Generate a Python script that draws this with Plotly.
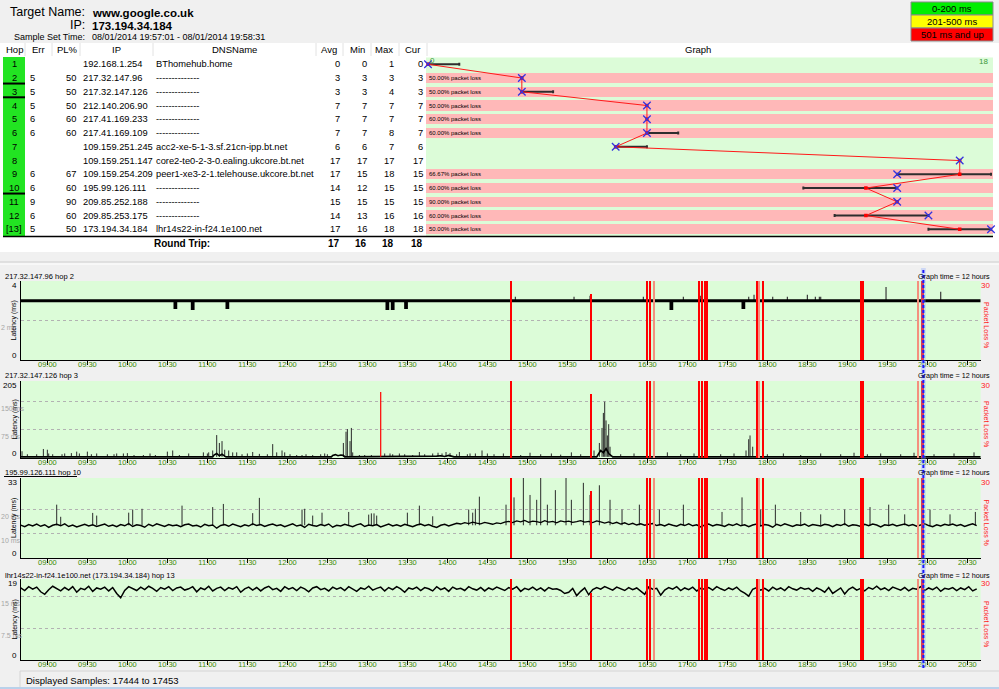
import plotly.graph_objects as go

W, H = 999, 689
FONT = "Liberation Sans, Arial, sans-serif"


def hm(s):
    h, m = s.split(":")
    return int(h) + int(m) / 60.0


# ---------------- data: trace route table ----------------
hop_labels = ["1", "2", "3", "4", "5", "6", "7", "8", "9", "10", "11", "12", "[13]"]
hop_index = list(range(1, 14))
err_col = ["", "5", "5", "5", "6", "6", "", "", "6", "6", "9", "6", "5"]
pl_col = ["", "50", "50", "50", "60", "60", "", "", "67", "60", "90", "60", "50"]
ip_col = ["192.168.1.254", "217.32.147.96", "217.32.147.126", "212.140.206.90",
          "217.41.169.233", "217.41.169.109", "109.159.251.245", "109.159.251.147",
          "109.159.254.209", "195.99.126.111", "209.85.252.188", "209.85.253.175",
          "173.194.34.184"]
dns_col = ["BThomehub.home", "--------------", "--------------", "--------------",
           "--------------", "--------------", "acc2-xe-5-1-3.sf.21cn-ipp.bt.net",
           "core2-te0-2-3-0.ealing.ukcore.bt.net", "peer1-xe3-2-1.telehouse.ukcore.bt.net",
           "--------------", "--------------", "--------------", "lhr14s22-in-f24.1e100.net"]
avg_ms = [0, 3, 3, 7, 7, 7, 6, 17, 17, 14, 15, 14, 17]
min_ms = [0, 3, 3, 7, 7, 7, 6, 17, 15, 12, 15, 13, 16]
max_ms = [1, 3, 4, 7, 7, 8, 7, 17, 18, 15, 15, 16, 18]
cur_ms = [0, 3, 3, 7, 7, 7, 6, 17, 15, 15, 15, 16, 18]
hop_loss_pct = [0, 50, 50, 50, 60, 60, 0, 0, 66.67, 60, 90, 60, 50]
round_trip = [17, 16, 18, 18]
graphed_hops = [2, 3, 10]
graph_max_ms = 18

# ---------------- data: time graphs ----------------
time_ticks = ["09:00", "09:30", "10:00", "10:30", "11:00", "11:30", "12:00", "12:30",
              "13:00", "13:30", "14:00", "14:30", "15:00", "15:30", "16:00", "16:30",
              "17:00", "17:30", "18:00", "18:30", "19:00", "19:30", "20:00", "20:30"]
window_start, window_end = "08:40", "20:40"
cursor_time = "19:57"
sample_step_min = 3

loss_times = ["14:48", "15:48", "16:30", "16:32", "16:35", "17:09", "17:11", "17:13", "17:15",
              "17:52", "17:54", "17:57", "19:10", "19:12", "19:53", "19:56", "19:57"]
loss_values = [100, 25, 100, 100, 100, 100, 100, 100, 100, 100, 100, 100, 100, 100, 100, 100, 100]
loss_partial = [0, 0, 0, 0, 1, 0, 0, 0, 0, 0, 1, 0, 0, 0, 1, 0, 0]

# hop 2
p1_base = 3.0
p1_dip_times = ["10:36", "10:49", "11:15", "13:15", "13:19", "13:29", "16:48", "17:42"]
p1_dip_values = [2.65, 2.6, 2.65, 2.6, 2.6, 2.65, 2.6, 2.65]
p1_spike_times = ["14:51", "15:35", "15:47", "16:27", "16:57", "17:10", "17:46", "17:50", "18:04",
                  "18:15", "18:30", "18:36", "18:39", "18:40", "19:29", "20:10"]
p1_spike_values = [3.2, 3.2, 3.25, 3.2, 3.2, 3.25, 3.2, 3.3, 3.2, 3.2, 3.3, 3.2, 3.2, 3.2, 3.7, 3.45]

# hop 3
p2_base = 3.0
p2_line_times = ["08:40", "11:04", "11:05", "11:07", "11:09", "11:11", "11:13", "11:14",
                 "12:33", "12:34", "12:36", "12:38", "12:40", "12:42", "12:43",
                 "13:51", "13:52", "13:55", "13:58", "14:01", "14:04", "14:05",
                 "15:52", "15:53", "15:55", "15:57", "15:59", "16:01", "16:03", "16:04", "20:40"]
p2_line_values = [3, 3, 8, 12, 6, 10, 5, 3,
                  3, 7, 9, 6, 8, 7, 3,
                  3, 5, 6, 4, 7, 5, 3,
                  3, 8, 20, 14, 25, 12, 6, 3, 3]
p2_spike_times = ["08:41", "08:45", "08:52", "08:57", "09:00", "09:01", "09:04", "09:11", "09:13",
                  "09:18", "09:22", "09:24", "09:30", "09:33", "09:37", "09:45", "09:50", "09:52",
                  "09:57", "10:00", "10:05", "10:12", "10:17", "10:21", "10:30", "10:34", "10:39",
                  "10:46", "10:57", "11:00", "11:01", "11:04", "11:07", "11:09", "11:11", "11:13",
                  "11:16", "11:19", "11:22", "11:26", "11:30", "11:34", "11:39", "11:45", "11:49",
                  "11:52", "11:56", "11:58", "12:02", "12:07", "12:11", "12:14", "12:19", "12:25",
                  "12:28", "12:30", "12:42", "12:44", "12:45", "12:47", "12:48", "12:49", "12:54",
                  "12:58", "13:03", "13:13", "13:17", "13:19", "13:24", "13:28", "13:34", "13:39",
                  "13:43", "13:49", "13:53", "13:56", "13:59", "14:02", "14:07", "14:09", "14:15",
                  "14:17", "14:21", "14:26", "14:30",
                  "14:35", "14:42", "14:55", "15:02", "15:10", "15:18", "15:25", "15:33", "15:40",
                  "15:50", "15:54", "15:56", "15:57", "15:58", "15:59", "16:00", "16:01", "16:02",
                  "16:10", "16:20", "16:32", "16:45", "16:55", "17:05", "17:15", "17:25", "17:35",
                  "17:44", "17:46", "17:47", "17:49", "18:00", "18:12", "18:25", "18:40", "18:55",
                  "19:05", "19:15", "19:25", "19:40", "19:50", "20:05", "20:20", "20:35"]
p2_spike_values = [18, 10, 10, 24, 22, 12, 10, 10, 12,
                   13, 17, 12, 17, 10, 12, 10, 10, 12,
                   12, 13, 8, 8, 12, 8, 17, 20, 8,
                   12, 15, 12, 15, 20, 61, 40, 45, 22,
                   20, 15, 15, 10, 12, 16, 11, 10, 37,
                   15, 20, 15, 10, 8, 8, 10, 8, 10,
                   12, 10, 40, 70, 77, 45, 80, 15, 8,
                   8, 8, 12, 12, 10, 12, 10, 8, 16,
                   10, 12, 14, 12, 16, 13, 10, 16, 10,
                   12, 12, 20, 12,
                   10, 12, 8, 14, 10, 12, 9, 15, 10,
                   20, 40, 80, 120, 150, 100, 60, 90, 30,
                   10, 12, 10, 15, 10, 12, 14, 10, 12,
                   20, 50, 60, 30, 10, 12, 8, 12, 10,
                   14, 10, 12, 10, 14, 10, 12, 15]
p2_red_time = "13:10"
p2_red_value = 176

# hop 10 (3-minute samples from 08:40)
p3_samples = [
    13.6, 12.9, 13.8, 13.2, 14.0, 13.1, 13.7, 12.6, 13.5, 13.9, 13.3, 14.1, 13.0, 13.6, 12.8, 13.4, 13.9, 13.2, 13.7, 13.0,
    13.5, 14.0, 13.1, 13.6, 12.9, 13.8, 13.3, 14.2, 13.0, 13.7, 13.4, 12.7, 13.9, 13.2, 14.1, 13.5, 13.0, 13.8, 13.3, 13.6,
    12.9, 13.7, 14.0, 13.2, 13.5, 12.8, 13.9, 13.3, 13.6, 12.3, 13.4, 13.8, 13.1, 14.0, 13.5, 12.9, 13.7, 13.2, 14.1, 13.4,
    13.8, 13.0, 13.6, 14.0, 13.3, 13.7, 12.9, 13.5, 14.1, 13.2, 13.6, 12.6, 13.9, 13.4, 13.1, 13.8, 13.3, 14.0, 12.7, 13.5,
    13.2, 13.9, 13.4, 12.9, 13.7, 14.1, 13.0, 13.6, 13.3, 13.8, 12.8, 13.5, 14.0, 13.2, 13.7, 13.1, 13.9, 13.4, 12.9, 13.6,
    14.0, 13.3, 13.8, 13.1, 12.6, 13.5, 13.9, 13.2, 13.7, 14.3, 14.0, 14.6, 14.2, 14.8, 14.4, 14.1, 14.7, 14.3, 13.9, 14.5,
    14.2, 14.8, 15.1, 14.6, 15.3, 14.9, 15.5, 14.7, 15.2, 15.0, 14.6, 15.4, 14.8, 15.1, 14.5, 15.3, 14.9, 15.2, 14.7, 15.0,
    15.4, 14.8, 15.1, 14.6, 15.3, 14.9, 14.4, 14.9, 14.2, 14.7, 14.0, 14.5, 13.8, 14.3, 13.6, 14.1, 13.5, 13.9, 14.2, 13.4,
    13.8, 13.2, 14.0, 13.5, 13.1, 13.9, 13.4, 14.1, 13.3, 13.7, 12.8, 13.6, 14.0, 13.2, 13.8, 13.5, 13.0, 13.9, 13.4, 14.1,
    13.3, 13.7, 12.9, 13.6, 14.0, 13.2, 13.8, 13.5, 12.7, 13.9, 13.3, 14.1, 13.6, 13.0, 13.7, 13.4, 14.0, 13.1, 13.8, 13.5,
    13.2, 13.9, 13.6, 12.9, 13.8, 13.4, 14.1, 13.1, 13.7, 13.5, 13.0, 13.9, 13.3, 14.0, 13.6, 12.8, 13.7, 13.4, 13.9, 13.2,
    13.6, 14.0, 13.3, 13.8, 13.1, 13.5, 14.1, 13.4, 12.9, 13.7, 13.2, 13.9, 13.5, 14.0, 13.3, 13.8, 13.0, 13.6, 14.1, 13.4]
p3_spike_base = 13.5
p3_spike_times = ["09:07", "09:10", "09:34", "09:37", "10:01", "10:04", "10:11", "10:41", "11:04",
                  "11:12", "11:34", "11:39", "12:11", "12:13", "12:19", "12:26", "12:46", "13:01",
                  "13:03", "13:05", "13:07", "13:30", "13:39", "13:49", "14:16", "14:19", "14:21",
                  "14:24", "14:44", "14:50", "14:57", "15:02", "15:07", "15:10", "15:15", "15:21",
                  "15:29", "15:33", "15:42", "15:47", "15:54", "16:02", "16:11", "16:24", "16:39",
                  "16:57", "17:09", "17:26", "17:41", "17:55", "18:06", "18:25", "18:40", "18:58",
                  "19:17", "19:31", "19:43", "20:02", "20:17", "20:36"]
p3_spike_values = [22, 17, 18.6, 17.5, 18.7, 20, 20.3, 21.6, 21,
                   22.3, 18.5, 24.8, 20, 20.3, 17.5, 18.7, 19, 17.9,
                   18.4, 18.4, 17.5, 18.7, 21.6, 17.2, 20, 18.7, 20.3,
                   25.3, 22, 25, 33, 26, 24, 33, 22, 28,
                   33, 24, 31, 26, 30, 24, 20, 22, 20,
                   22, 24, 19, 25, 20, 22, 19, 18, 20,
                   21, 22, 18, 20, 18, 19]

# hop 13 (3-minute samples from 08:40)
p4_samples = [
    16.9, 16.3, 17.2, 16.6, 17.1, 16.0, 15.4, 16.5, 17.3, 16.7, 16.2, 17.0, 16.4, 17.2, 15.9, 16.8, 16.5, 17.3, 16.1, 16.9,
    16.6, 17.1, 16.2, 17.0, 15.6, 14.6, 16.3, 17.2, 16.7, 16.3, 17.1, 16.5, 17.3, 16.8, 16.1, 17.0, 16.6, 17.2, 16.3, 16.9,
    17.1, 16.4, 16.7, 17.2, 16.0, 16.9, 16.5, 17.3, 16.2, 16.8, 17.1, 16.3, 17.0, 16.6, 17.2, 15.9, 16.7, 17.1, 16.4, 17.0,
    16.2, 16.9, 17.3, 16.5, 16.8, 16.1, 17.2, 16.6, 17.0, 16.3, 17.1, 16.7, 16.0, 16.9, 17.2, 16.5, 16.8, 16.2, 17.1, 16.6,
    17.0, 16.3, 17.2, 16.7, 16.1, 16.9, 16.6, 17.3, 16.4, 16.8, 17.1, 16.2, 17.0, 16.5, 17.2, 16.7, 15.9, 16.9, 16.6, 17.1,
    16.3, 17.0, 16.7, 16.2, 17.2, 16.5, 16.9, 16.1, 17.1, 16.6, 16.8, 16.3, 17.2, 16.7, 16.4, 17.0, 16.2, 16.9, 16.5, 17.1,
    16.7, 16.3, 17.0, 16.6, 17.2, 16.1, 16.8, 16.5, 17.1, 16.4, 16.9, 16.2, 17.0, 16.6, 16.7, 16.3, 15.6, 15.9, 16.8, 15.1,
    16.1, 16.9, 15.3, 16.5, 17.0, 16.6, 17.2, 16.8, 16.4, 17.1, 16.7, 16.3, 17.0, 16.5, 16.9, 16.2, 15.4, 17.1, 16.6, 16.8,
    15.2, 16.4, 17.0, 16.6, 17.2, 16.3, 16.9, 16.5, 17.1, 16.2, 16.8, 16.6, 17.0, 16.4, 17.2, 16.7, 16.3, 16.9, 16.5, 17.1,
    16.2, 15.7, 15.0, 16.6, 17.0, 16.4, 16.8, 16.2, 17.1, 16.5, 16.9, 16.3, 17.2, 16.7, 16.4, 17.0, 16.6, 16.8, 16.1, 16.9,
    16.5, 15.9, 17.0, 15.6, 16.3, 16.9, 15.5, 16.6, 17.1, 16.4, 16.8, 16.2, 17.0, 16.6, 17.3, 16.5, 16.9, 16.3, 17.1, 16.7,
    16.4, 17.0, 16.2, 16.8, 16.6, 17.2, 16.3, 16.9, 16.5, 17.1, 16.1, 16.8, 16.6, 17.0, 16.3, 16.9, 16.5, 17.2, 16.2, 16.7]

panel_titles = ["217.32.147.96 hop 2", "217.32.147.126 hop 3", "195.99.126.111 hop 10",
                "lhr14s22-in-f24.1e100.net (173.194.34.184) hop 13"]
panel_ymax = [4, 205, 33, 19]
panel_grid = [[2], [75, 150], [10, 20], [7.5, 15]]
panel_grid_labels = [["2 ms"], ["75 ms", "150 ms"], ["10 ms", "20 ms"], ["7.5 ms", "15 ms"]]
loss_axis_max = 30

# ---------------- helpers ----------------
def PX(x):
    return x / W


def PY(y):
    return 1 - y / H


shapes = []
annotations = []


def ann(text, x, y, xref="paper", yref="paper", xanchor="left", yanchor="middle",
        size=10, color="#000", bold=False, angle=0, yshift=0, xshift=0):
    if xref == "paper":
        x = PX(x)
    if yref == "paper":
        y = PY(y)
    annotations.append(dict(text=("<b>%s</b>" % text) if bold else text, x=x, y=y, xref=xref,
                            yref=yref, xanchor=xanchor, yanchor=yanchor, showarrow=False,
                            textangle=angle, yshift=yshift, xshift=xshift, borderpad=0,
                            font=dict(family=FONT, size=size, color=color)))


def prect(x0, y0, x1, y1, fill, line=None, lw=0, layer="below"):
    shapes.append(dict(type="rect", xref="paper", yref="paper", x0=PX(x0), x1=PX(x1),
                       y0=PY(y1), y1=PY(y0), fillcolor=fill, layer=layer,
                       line=dict(color=line or fill, width=lw)))


def pline(x0, y0, x1, y1, color, width=1, dash=None, layer="above"):
    shapes.append(dict(type="line", xref="paper", yref="paper", x0=PX(x0), x1=PX(x1),
                       y0=PY(y0), y1=PY(y1), layer=layer,
                       line=dict(color=color, width=width, dash=dash)))


GREEN_BG = "#dcfcd8"
PINK = "#ffb8b8"
TS = 9.3  # table font size

fig = go.Figure()

# ---------------- header ----------------
ann("Target Name:", 86, 12, xanchor="right", size=12.5)
ann("www.google.co.uk", 91, 12.5, size=11.5, bold=True)
ann("IP:", 86, 25, xanchor="right", size=12.5)
ann("173.194.34.184", 91, 25.5, size=11.5, bold=True)
ann("Sample Set Time:", 86, 37, xanchor="right", size=9)
ann("08/01/2014 19:57:01 - 08/01/2014 19:58:31", 91, 37, size=9)

legend_items = [("0-200 ms", "#00ee00"), ("201-500 ms", "#ffff00"), ("501 ms and up", "#ff0000")]
for k, (lab, col) in enumerate(legend_items):
    prect(911, 2 + 13 * k, 993, 15 + 13 * k, col, line="#8a8a8a", lw=1, layer="above")
    ann(lab, 952, 8.8 + 13 * k, xanchor="center", size=9.5)

# table white area and separators
prect(0, 43, 999, 252, "#ffffff")
for sx in [25, 52, 80, 153, 316, 343, 371, 399, 427]:
    pline(sx, 43, sx, 56, "#e2e2e2", 1)
pline(0, 262, 999, 262, "#cfcfcf", 1)
pline(0, 264, 999, 264, "#ffffff", 1)

# ---------------- table (x2 / y2) ----------------
TX = "x2"
TY = "y2"
fig.add_trace(go.Bar(orientation="h", y=hop_index, x=[22] * len(hop_index), base=3, width=1.0,
                     marker=dict(color="#22e422", line_width=0), xaxis=TX, yaxis=TY,
                     hoverinfo="skip"))
for h in graphed_hops:
    fig.add_trace(go.Scatter(x=[3, 25], y=[h + 0.4, h + 0.4], mode="lines",
                             line=dict(color="#000", width=2), xaxis=TX, yaxis=TY,
                             hoverinfo="skip"))

header_row = -0.09
for lab, cx in [("Hop", 14), ("Err", 38), ("PL%", 67), ("IP", 116), ("DNSName", 234),
                ("Avg", 329), ("Min", 357), ("Max", 384), ("Cur", 412)]:
    ann(lab, cx, header_row, xref=TX, yref=TY, xanchor="center", size=9.5)
ann("Graph", 698, 49.3, xanchor="center", size=9.5)

for i, h in enumerate(hop_index):
    ann(hop_labels[i], 14, h, xref=TX, yref=TY, xanchor="center", size=TS)
    if err_col[i]:
        ann(err_col[i], 29, h, xref=TX, yref=TY, size=TS)
    if pl_col[i]:
        ann(pl_col[i], 76.5, h, xref=TX, yref=TY, xanchor="right", size=TS)
    ann(ip_col[i], 81.5, h, xref=TX, yref=TY, size=TS)
    ann(dns_col[i], 155, h, xref=TX, yref=TY, size=TS)
    for val, rx in zip([avg_ms[i], min_ms[i], max_ms[i], cur_ms[i]], [341, 368, 395, 424]):
        ann(str(val), rx, h, xref=TX, yref=TY, xanchor="right", size=TS)

rt_row = 14.02
ann("Round Trip:", 153, rt_row, xref=TX, yref=TY, size=10, bold=True)
for val, rx in zip(round_trip, [341, 368, 395, 424]):
    ann(str(val), rx, rt_row, xref=TX, yref=TY, xanchor="right", size=10, bold=True)

shapes.append(dict(type="line", xref="paper", yref="y2", x0=PX(3), x1=PX(993), y0=13.52, y1=13.52,
                   line=dict(color="#000", width=1.6), layer="above"))

# ---------------- hop graph (x / y) ----------------
GX0, GX1 = -0.064, graph_max_ms + 0.064
shapes.append(dict(type="rect", xref="x domain", yref="y domain", x0=0, x1=1, y0=0, y1=1,
                   fillcolor=GREEN_BG, line_width=0, layer="below"))
loss_rows = [h for h, p in zip(hop_index, hop_loss_pct) if p > 0]
fig.add_trace(go.Bar(orientation="h", y=loss_rows, x=[GX1 - GX0] * len(loss_rows), base=GX0,
                     width=0.74, marker=dict(color=PINK, line_width=0), xaxis="x", yaxis="y",
                     hoverinfo="skip"))
for h, p in zip(hop_index, hop_loss_pct):
    if p > 0:
        ann("%.2f%% packet loss" % p, GX0, h, xref="x", yref="y", size=6, xshift=1.5)
fig.add_trace(go.Scatter(
    x=avg_ms, y=hop_index, mode="markers", marker=dict(size=2, color="rgba(0,0,0,0)"),
    error_x=dict(type="data", symmetric=False,
                 array=[b - a for a, b in zip(avg_ms, max_ms)],
                 arrayminus=[a - c for a, c in zip(avg_ms, min_ms)],
                 color="#2e2e2e", thickness=2, width=1.5),
    xaxis="x", yaxis="y", hoverinfo="skip"))
fig.add_trace(go.Scatter(x=avg_ms, y=hop_index, mode="lines", line=dict(color="#ff1a1a", width=1),
                         xaxis="x", yaxis="y", hoverinfo="skip"))
fig.add_trace(go.Scatter(x=avg_ms, y=hop_index, mode="markers",
                         marker=dict(symbol="square", size=3.5, color="#ff0000"),
                         xaxis="x", yaxis="y", hoverinfo="skip"))
fig.add_trace(go.Scatter(x=cur_ms, y=hop_index, mode="markers", cliponaxis=False,
                         marker=dict(symbol="x-thin", size=7.5, color="#3434e0",
                                     line=dict(color="#3434e0", width=1.3)),
                         xaxis="x", yaxis="y", hoverinfo="skip"))
ann("0", 0, 0.5, xref="x", yref="y", size=8, color="#3c9a3c", xshift=1, yshift=-3.5)
ann(str(graph_max_ms), graph_max_ms, 0.5, xref="x", yref="y", xanchor="right", size=8,
    color="#3c9a3c", xshift=-2, yshift=-4.5)

# ---------------- time graphs ----------------
panel_tops = [281, 381, 478, 579]
panel_bottoms = [360, 458, 558, 660]
title_ys = [276.5, 375.5, 472.5, 575]
PLOT_L, PLOT_R = 20.7, 980.7
t_lo, t_hi = hm(window_start), hm(window_end)
tickvals = [hm(s) for s in time_ticks]


def spike_segments(times, values, base):
    xs, ys = [], []
    for t, v in zip(times, values):
        xs += [hm(t), hm(t), None]
        ys += [base, v, None]
    return xs, ys


def sample_times(n):
    return [t_lo + i * sample_step_min / 60.0 for i in range(n)]


layout_axes = {}
for k in range(4):
    xa = "x%d" % (k + 3)
    ya = "y%d" % (k + 3)
    top, bot = panel_tops[k], panel_bottoms[k]
    layout_axes["xaxis%d" % (k + 3)] = dict(
        domain=[PX(PLOT_L), PX(PLOT_R)], range=[t_lo, t_hi], anchor=ya, showline=True,
        linecolor="#000", linewidth=1, ticks="outside", ticklen=4, tickcolor="#000",
        tickwidth=1, tickvals=tickvals, ticktext=time_ticks, showgrid=False, zeroline=False,
        ticklabelstandoff=-7,
        tickfont=dict(family=FONT, size=7.5, color="#3c8c00"), fixedrange=True)
    layout_axes["yaxis%d" % (k + 3)] = dict(
        domain=[PY(bot), PY(top)], range=[0, panel_ymax[k]], anchor=xa, showline=True,
        linecolor="#000", linewidth=1, ticks="", showticklabels=False, showgrid=True,
        gridcolor="#b2b2b2", griddash="3px,3px", gridwidth=1, tickvals=panel_grid[k],
        zeroline=False, fixedrange=True)
    layout_axes["yaxis%d" % (k + 7)] = dict(
        overlaying=ya, anchor=xa, side="right", range=[0, loss_axis_max], visible=False,
        fixedrange=True)
    shapes.append(dict(type="rect", xref=xa + " domain", yref=ya + " domain", x0=0, x1=1,
                       y0=0, y1=1, fillcolor=GREEN_BG, line_width=0, layer="below"))
    # texts
    ann(panel_titles[k], 4, title_ys[k], size=7.5)
    ann("Graph time = 12 hours", 991, title_ys[k], xanchor="right", size=7.2)
    ann(str(panel_ymax[k]), 18, top + 4.5, xanchor="right", size=8)
    ann("0", 18, bot - 5, xanchor="right", size=8)
    for gv, gl in zip(panel_grid[k], panel_grid_labels[k]):
        ann(gl, PX(22), gv, xref="paper", yref=ya, size=7, color="#a6a6a6", yshift=-7)
    ann("Latency (ms)", 14, (top + bot) / 2, xanchor="center", size=7, angle=-90)
    ann(str(loss_axis_max), 985.5, top + 4.5, xanchor="center", size=8, color="#ff2020")
    ann("Packet Loss %", 986.5, (top + bot) / 2 + 4, xanchor="center", size=7,
        color="#ff2020", angle=90)

pline(4, 476.5, 77, 476.5, "#000", 1)

# panel 1 data (hop 2)
xs, ys = [t_lo], [p1_base]
for t, v in sorted(zip(p1_dip_times, p1_dip_values), key=lambda p: hm(p[0])):
    c = hm(t)
    xs += [c - 0.006, c - 0.006, c + 0.006, c + 0.006]
    ys += [p1_base, v, v, p1_base]
xs.append(t_hi)
ys.append(p1_base)
sx, sy = spike_segments(p1_spike_times, p1_spike_values, p1_base)
fig.add_trace(go.Scatter(x=sx, y=sy, mode="lines", line=dict(color="#3a3a3a", width=1.2),
                         xaxis="x3", yaxis="y3", hoverinfo="skip"))
fig.add_trace(go.Scatter(x=xs, y=ys, mode="lines", line=dict(color="#000", width=2.8),
                         xaxis="x3", yaxis="y3", hoverinfo="skip"))

# panel 2 data (hop 3)
sx, sy = spike_segments(p2_spike_times, p2_spike_values, p2_base)
fig.add_trace(go.Scatter(x=sx, y=sy, mode="lines", line=dict(color="#2a2a2a", width=1),
                         xaxis="x4", yaxis="y4", hoverinfo="skip"))
fig.add_trace(go.Scatter(x=[hm(t) for t in p2_line_times], y=p2_line_values, mode="lines",
                         line=dict(color="#000", width=1.6), xaxis="x4", yaxis="y4",
                         hoverinfo="skip"))
fig.add_trace(go.Scatter(x=[hm(p2_red_time)] * 2, y=[p2_base, p2_red_value], mode="lines",
                         line=dict(color="#ff0000", width=1.2), xaxis="x4", yaxis="y4",
                         hoverinfo="skip"))

# panel 3 data (hop 10)
sx, sy = spike_segments(p3_spike_times, p3_spike_values, p3_spike_base)
fig.add_trace(go.Scatter(x=sx, y=sy, mode="lines", line=dict(color="#2a2a2a", width=1),
                         xaxis="x5", yaxis="y5", hoverinfo="skip"))
fig.add_trace(go.Scatter(x=sample_times(len(p3_samples)), y=p3_samples, mode="lines",
                         line=dict(color="#000", width=1.4), xaxis="x5", yaxis="y5",
                         hoverinfo="skip"))

# panel 4 data (hop 13)
fig.add_trace(go.Scatter(x=sample_times(len(p4_samples)), y=p4_samples, mode="lines",
                         line=dict(color="#000", width=1.5), xaxis="x6", yaxis="y6",
                         hoverinfo="skip"))

# packet loss bars on every time graph
loss_colors = ["#f4907e" if p else "#ff0000" for p in loss_partial]
for k in range(4):
    fig.add_trace(go.Bar(x=[hm(t) for t in loss_times], y=loss_values, width=0.025,
                         marker=dict(color=loss_colors, line=dict(width=0)),
                         xaxis="x%d" % (k + 3), yaxis="y%d" % (k + 7), hoverinfo="skip"))

# cursor
shapes.append(dict(type="rect", xref="x3", yref="paper", x0=hm(cursor_time) - 0.03,
                   x1=hm(cursor_time) + 0.03, y0=PY(668), y1=PY(268),
                   fillcolor="rgba(140,170,255,0.35)", line_width=0, layer="above"))
shapes.append(dict(type="line", xref="x3", yref="paper", x0=hm(cursor_time), x1=hm(cursor_time),
                   y0=PY(668), y1=PY(268), line=dict(color="#1a1aff", width=2, dash="3px,2px"),
                   layer="above"))

# status bar
pline(20, 671, 999, 671, "#d4d4d4", 1)
pline(20, 671, 20, 687, "#d4d4d4", 1)
prect(0, 687, 999, 689, "#b9d1ea")
ann("Displayed Samples: 17444 to 17453", 25, 680, size=9.5)

fig.update_layout(
    width=W, height=H, autosize=False, margin=dict(l=0, r=0, t=0, b=0, pad=0),
    paper_bgcolor="#f0f0f0", plot_bgcolor="rgba(0,0,0,0)", showlegend=False,
    barmode="overlay", bargap=0, hovermode=False,
    font=dict(family=FONT, size=10, color="#000"),
    xaxis=dict(domain=[PX(426), PX(993)], range=[GX0, GX1], visible=False, anchor="y",
               fixedrange=True),
    yaxis=dict(domain=[PY(236.2), PY(57.4)], range=[13.5, 0.5], visible=False, anchor="x",
               fixedrange=True),
    xaxis2=dict(domain=[0, PX(426)], range=[0, 426], visible=False, anchor="y2", fixedrange=True),
    yaxis2=dict(domain=[PY(250), PY(43)], range=[14.505, -0.549], visible=False, anchor="x2",
                fixedrange=True),
    annotations=annotations, shapes=shapes, **layout_axes)

fig.write_html("out.html", config={"displayModeBar": False, "staticPlot": True})
